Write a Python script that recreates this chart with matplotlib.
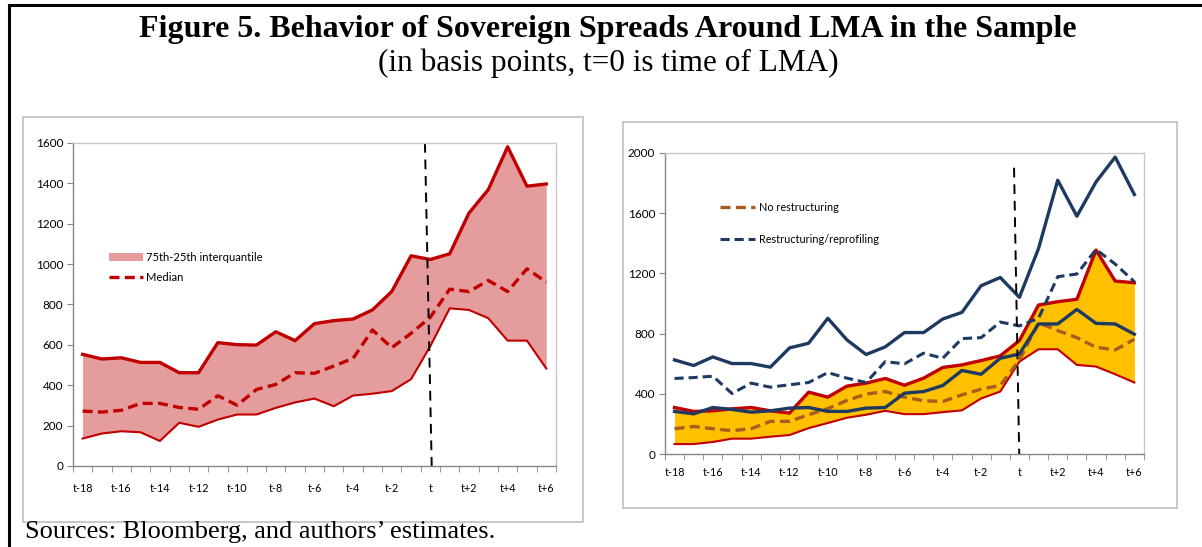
import matplotlib.pyplot as plt
import matplotlib.patches as mpatches
import matplotlib.lines as mlines
import numpy as np

# categories (t = time of LMA)
periods = ["t-18", "t-17", "t-16", "t-15", "t-14", "t-13", "t-12", "t-11", "t-10",
           "t-9", "t-8", "t-7", "t-6", "t-5", "t-4", "t-3", "t-2", "t-1", "t",
           "t+1", "t+2", "t+3", "t+4", "t+5", "t+6"]

# left panel: whole sample
all_p75 = [553, 530, 536, 513, 513, 462, 462, 611, 601, 599, 665, 621, 705, 720,
           728, 773, 864, 1041, 1023, 1051, 1253, 1369, 1581, 1386, 1397]
all_median = [272, 267, 276, 310, 310, 290, 281, 348, 301, 379, 404, 462, 459, 495,
              533, 674, 586, 657, 737, 876, 864, 919, 864, 977, 911]
all_p25 = [136, 161, 172, 167, 124, 214, 194, 230, 255, 255, 288, 315, 334, 296,
           349, 358, 371, 430, 594, 781, 773, 732, 621, 621, 483]

# right panel: no restructuring
nr_p75 = [309, 283, 287, 300, 309, 287, 272, 411, 378, 451, 471, 502, 457, 504,
          575, 592, 621, 652, 754, 990, 1012, 1028, 1355, 1149, 1138]
nr_median = [168, 183, 168, 155, 168, 217, 217, 261, 301, 356, 398, 415, 378, 354,
             349, 393, 431, 455, 625, 873, 820, 773, 709, 692, 762]
nr_p25 = [66, 66, 80, 102, 102, 115, 126, 172, 206, 241, 261, 287, 265, 265,
          278, 290, 369, 415, 614, 696, 696, 592, 581, 530, 475]

# right panel: restructuring / reprofiling
rs_p75 = [625, 588, 645, 601, 601, 577, 705, 736, 902, 758, 661, 712, 807, 807,
          897, 941, 1118, 1173, 1041, 1366, 1819, 1580, 1808, 1973, 1724]
rs_median = [502, 508, 517, 402, 471, 444, 460, 475, 541, 504, 475, 614, 599, 670,
             636, 767, 773, 877, 851, 902, 1178, 1196, 1359, 1262, 1145]
rs_p25 = [283, 267, 309, 296, 278, 287, 305, 309, 283, 283, 305, 309, 404, 415,
          455, 555, 530, 636, 665, 864, 864, 961, 868, 864, 796]

# hand drawn LMA marker lines (category position, value)
lma_left_x = [17.72, 18.07]
lma_left_y = [1600, 0]
lma_right_x = [17.72, 17.99]
lma_right_y = [1902, 0]

RED = "#C00000"
PINK = "#E59C9C"
GOLD = "#FFC000"
NAVY = "#1F3A60"
BROWN = "#A85C1E"
GRID = "#868686"

plt.rcParams["font.family"] = ["Lato", "DejaVu Sans"]

fig = plt.figure(figsize=(12.02, 5.47), dpi=100)

# outer frame (top and left only show)
fig.add_artist(mlines.Line2D([0.0075, 1.0], [0.990, 0.990], color="black", lw=2.2))
fig.add_artist(mlines.Line2D([0.0075, 0.0075], [0.0, 0.990], color="black", lw=2.2))

# panel boxes
fig.add_artist(mpatches.Rectangle((0.0191, 0.0457), 0.4659, 0.7404, fill=False,
                                  edgecolor="#BFBFBF", lw=1.2))
fig.add_artist(mpatches.Rectangle((0.5183, 0.0713), 0.4609, 0.7057, fill=False,
                                  edgecolor="#BFBFBF", lw=1.2))

fig.text(0.506, 0.946, "Figure 5. Behavior of Sovereign Spreads Around LMA in the Sample",
         ha="center", va="center", fontsize=23, fontweight="bold",
         family="Liberation Serif")
fig.text(0.506, 0.884, "(in basis points, t=0 is time of LMA)", ha="center",
         va="center", fontsize=22.5, family="Liberation Serif")
fig.text(0.021, 0.028, "Sources: Bloomberg, and authors\u2019 estimates.", ha="left",
         va="center", fontsize=19, family="Liberation Serif")

x = np.arange(len(periods))


def style_axes(ax, ymax, ystep, pad_x):
    ax.set_xlim(-0.5, len(periods) - 0.5)
    ax.set_ylim(0, ymax)
    ax.set_yticks(np.arange(0, ymax + 1, ystep))
    ax.set_xticks(x[::2])
    ax.set_xticklabels(periods[::2])
    ax.set_xticks(np.arange(-0.5, len(periods), 1.0), minor=True)
    ax.tick_params(axis="x", which="major", length=0, pad=pad_x, labelsize=7.8)
    ax.tick_params(axis="x", which="minor", length=4, color=GRID, direction="out")
    ax.tick_params(axis="y", length=4, color=GRID, labelsize=8.5, pad=3)
    for s in ax.spines.values():
        s.set_color(GRID)
        s.set_linewidth(1.0)
    for s in ["top", "right"]:
        ax.spines[s].set_color("#C8C8C8")


# left panel
ax1 = fig.add_axes([0.0607, 0.1481, 0.4018, 0.5905])
ax1.fill_between(x, all_p25, all_p75, color=PINK, lw=0,
                 label="75th-25th interquantile")
ax1.plot(x, all_p75, color=RED, lw=2.4)
ax1.plot(x, all_p25, color=RED, lw=1.5)
ax1.plot(x, all_median, color=RED, lw=2.4, dashes=(3, 1.6), label="Median")
ax1.plot(lma_left_x, lma_left_y, color="black", lw=1.4, dashes=(5, 3.5), clip_on=False)
style_axes(ax1, 1600, 200, 12)
ax1.legend(loc="upper left", bbox_to_anchor=(0.075, 0.662), frameon=False,
           fontsize=8.1, handlelength=3.0, labelspacing=0.8, borderpad=0,
           handletextpad=0.3, borderaxespad=0)

# right panel
ax2 = fig.add_axes([0.5532, 0.1700, 0.3985, 0.5503])
ax2.fill_between(x, nr_p25, nr_p75, color=GOLD, lw=0)
ax2.plot(x, nr_p75, color=RED, lw=2.4)
ax2.plot(x, nr_p25, color=RED, lw=1.5)
ax2.plot(x, nr_median, color=BROWN, lw=2.4, dashes=(3, 1.6), label="No restructuring")
ax2.plot(x, rs_p75, color=NAVY, lw=2.4)
ax2.plot(x, rs_median, color=NAVY, lw=2.2, dashes=(3, 1.6),
         label="Restructuring/reprofiling")
ax2.plot(x, rs_p25, color=NAVY, lw=2.4)
ax2.plot(lma_right_x, lma_right_y, color="black", lw=1.4, dashes=(5, 3.5), clip_on=False)
style_axes(ax2, 2000, 400, 9)
ax2.legend(loc="upper left", bbox_to_anchor=(0.115, 0.838), frameon=False,
           fontsize=7.8, handlelength=3.2, labelspacing=1.95, borderpad=0,
           handletextpad=0.4, borderaxespad=0)

fig.savefig("out.png", dpi=100)
